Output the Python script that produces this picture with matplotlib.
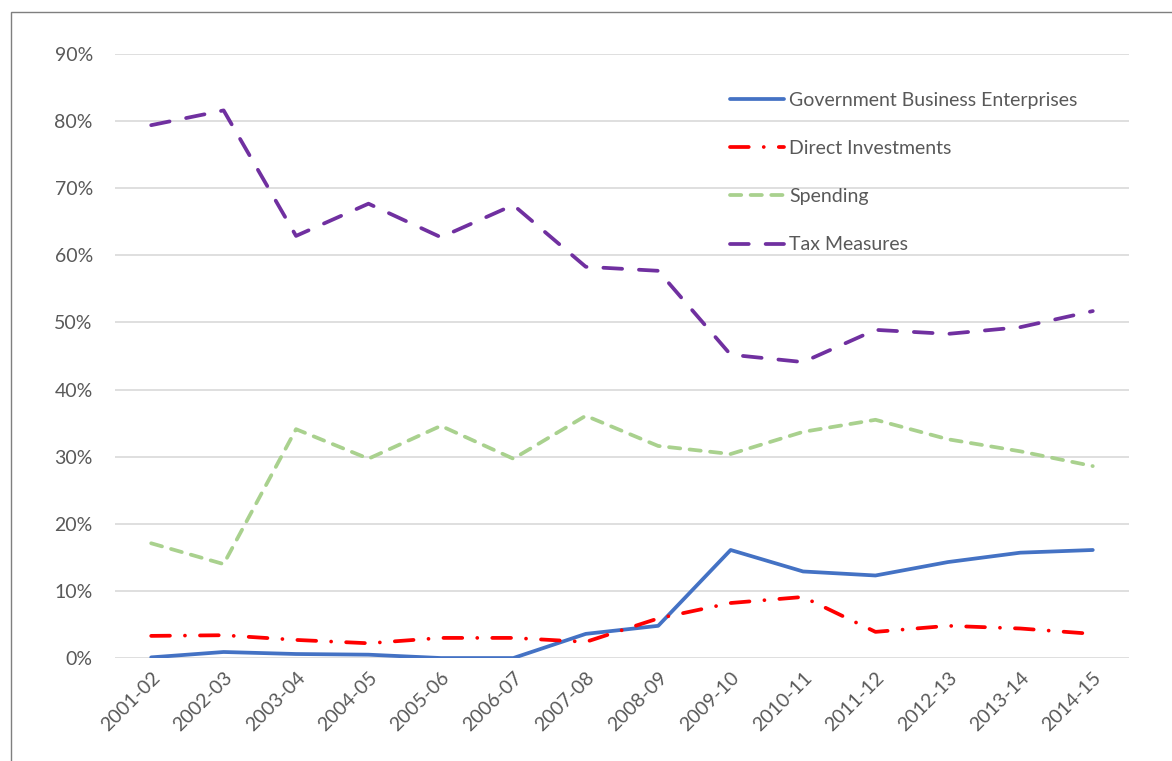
import matplotlib
matplotlib.use("Agg")
import matplotlib.pyplot as plt
import matplotlib.patches as mp
from matplotlib.ticker import FuncFormatter

plt.rcParams["font.family"] = ["Lato", "DejaVu Sans"]

years = ["2001-02", "2002-03", "2003-04", "2004-05", "2005-06", "2006-07", "2007-08",
         "2008-09", "2009-10", "2010-11", "2011-12", "2012-13", "2013-14", "2014-15"]
gbe = [0.1, 0.9, 0.6, 0.5, 0.0, 0.0, 3.6, 4.8, 16.1, 12.9, 12.3, 14.3, 15.7, 16.1]
direct = [3.3, 3.4, 2.7, 2.2, 3.0, 3.0, 2.4, 5.9, 8.2, 9.1, 3.9, 4.8, 4.4, 3.6]
spending = [17.1, 14.0, 34.1, 29.7, 34.6, 29.7, 36.1, 31.6, 30.4, 33.7, 35.5, 32.6, 30.8, 28.6]
tax = [79.4, 81.6, 62.9, 67.7, 62.7, 67.5, 58.3, 57.7, 45.2, 44.1, 48.9, 48.3, 49.3, 51.7]

GREY = "#595959"
fig = plt.figure(figsize=(11.72, 7.61), dpi=100)
ax = fig.add_axes([0.0981, 0.1353, 0.8652, 0.7937])

x = range(len(years))
lw = 2.7
ax.plot(x, gbe, color="#4472C4", lw=lw, solid_capstyle="round", solid_joinstyle="round",
        label="Government Business Enterprises", zorder=3)
ax.plot(x, direct, color="#FF0000", lw=lw, ls=(0, (5, 4, 0.01, 4)), dash_capstyle="round",
        label="Direct Investments", zorder=3)
ax.plot(x, spending, color="#A9D18E", lw=lw, ls=(0, (3, 2.5)), dash_capstyle="round",
        label="Spending", zorder=3)
ax.plot(x, tax, color="#7030A0", lw=lw, ls=(0, (5, 4.5)), dash_capstyle="round",
        label="Tax Measures", zorder=3)

ax.set_xlim(-0.5, len(years) - 0.5)
ax.set_ylim(0, 90)
ax.set_yticks(range(0, 91, 10))
ax.yaxis.set_major_formatter(FuncFormatter(lambda v, p: f"{v:.0f}%"))
ax.set_xticks(list(x))
ax.set_xticklabels(years, rotation=45, ha="right", rotation_mode="anchor")
ax.tick_params(axis="both", length=0, labelsize=14, labelcolor=GREY)
ax.tick_params(axis="y", pad=16)
ax.tick_params(axis="x", pad=8)
ax.grid(axis="y", color="#D9D9D9", lw=1.2)
for s in ax.spines.values():
    s.set_visible(False)

ax.legend(loc="upper left", bbox_to_anchor=(0.589, 0.966), frameon=False,
          fontsize=14, labelcolor=GREY, handlelength=2.8, handletextpad=0.25,
          labelspacing=1.6)

# outer chart frame
fig.patches.append(mp.Rectangle((11 / 1172, -0.1), 1.2, 1.1 - 12 / 761,
                                transform=fig.transFigure, fill=False,
                                edgecolor="#7F7F7F", lw=1.0))

fig.savefig("out.png", dpi=100)
